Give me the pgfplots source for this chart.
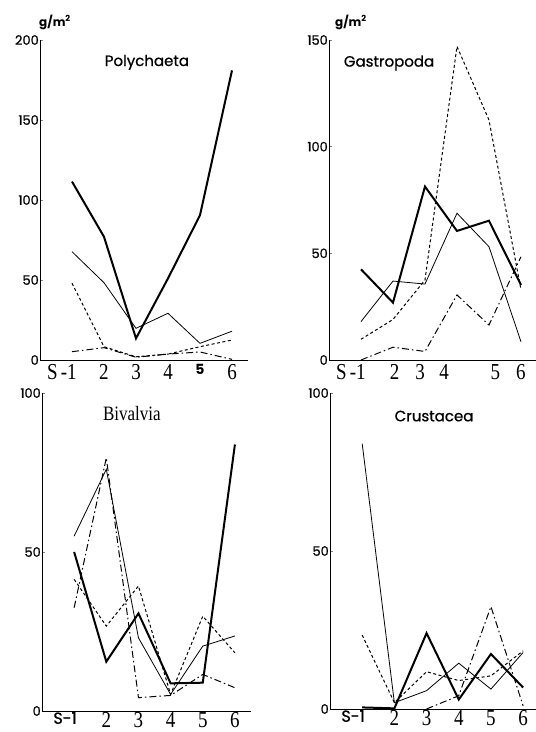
\documentclass[border=0pt]{standalone}
\usepackage{fontspec}
\setmainfont{Liberation Serif}
\setsansfont{Poppins}
\newfontfamily\sfmed{Poppins}[FakeBold=0.8]
\usepackage{graphicx}
\usepackage{pgfplots}
\pgfplotsset{compat=1.18}

% serif labels in the scan are a bit taller than wide
\newcommand{\tall}[1]{\scalebox{1}[1.2]{#1}}

\pgfplotsset{
  panel/.style={
    scale only axis, xmin=0, xmax=6.5, ymin=0,
    axis x line*=bottom, axis y line*=left,
    axis line style={line width=0.9bp},
    clip=false,
    xtick={1,...,6},
    x tick style={draw=none},
    y tick style={line width=0.8bp},
    tick align=inside, major tick length=3bp,
    /pgf/number format/assume math mode=true,
    yticklabel style={font=\sfmed\fontsize{13bp}{13bp}\selectfont, inner sep=1bp},
    xticklabel style={font=\fontsize{19bp}{19bp}\selectfont, inner sep=4bp},
  },
  thk/.style={black, line width=2bp},
  thn/.style={black, line width=0.8bp},
  dsh/.style={black, line width=1bp, dash pattern=on 3bp off 2.5bp},
  dd/.style={black, line width=1bp, dash pattern=on 7bp off 3bp on 1.5bp off 3bp},
}
\tikzset{
  ttl/.style={font=\sfmed\fontsize{15bp}{15bp}\selectfont},
  unit/.style={font=\sffamily\bfseries\fontsize{12bp}{12bp}\selectfont},
}

\begin{document}
\begin{tikzpicture}
\useasboundingbox (0,0) rectangle (536bp,732bp);

% Polychaeta
\begin{axis}[panel, at={(40bp,372bp)}, anchor=south west,
  width=208bp, height=320bp, ymax=200, ytick={0,50,100,150,200},
  xticklabels={\tall{\llap{S\,-}1},\tall{2},\tall{3},\tall{4},{\sffamily\bfseries\fontsize{14bp}{14bp}\selectfont 5},\tall{6}}]
  \addplot[thk] coordinates {(1,111.5)(2,77)(3,13.5)(4,51)(5,90.5)(6,181)};
  \addplot[thn] coordinates {(1,67.7)(2,48.3)(3,19.8)(4,29.2)(5,10.4)(6,18)};
  \addplot[dsh] coordinates {(1,48)(2,8.3)(3,2)(4,3.7)(5,8.3)(6,12.5)};
  \addplot[dd] coordinates {(1,5.2)(2,7.7)(3,1.7)(4,3.7)(5,5)(6,0.4)};
  \node[ttl] at (rel axis cs:0.514,0.93) {Polychaeta};
  \node[unit] at (rel axis cs:0.072,1.056) {g/m\textsuperscript{2}};
\end{axis}

% Gastropoda
\begin{axis}[panel, at={(329bp,372bp)}, anchor=south west,
  width=207bp, height=320bp, xmax=6.47, ymax=150, ytick={0,50,100,150},
  xtick={1,2.05,2.85,3.6,5.2,6},
  xticklabels={\tall{\llap{S\,-}1},\tall{2},\tall{3},\tall{4},\tall{5},\tall{6}}]
  \addplot[thk] coordinates {(1,42.5)(2,26.9)(3,81.3)(4,60.5)(5,65.3)(6,35.2)};
  \addplot[thn] coordinates {(1,18)(2,37)(3,35.6)(4,68.8)(5,53.1)(6,8.6)};
  \addplot[dsh] coordinates {(1,9.7)(2,19)(3,37.5)(4,147)(5,112.5)(6,33)};
  \addplot[dd] coordinates {(1,0)(2,6)(3,4)(4,30.5)(5,16.4)(6,48.4)};
  \node[ttl] at (rel axis cs:0.29,0.928) {Gastropoda};
  \node[unit] at (rel axis cs:0.106,1.056) {g/m\textsuperscript{2}};
\end{axis}

% Bivalvia
\begin{axis}[panel, at={(42bp,21bp)}, anchor=south west,
  width=209bp, height=318bp, ymax=100, ytick={0,50,100},
  xticklabel style={inner sep=1bp},
  xticklabels={{\sfmed\fontsize{16bp}{16bp}\selectfont\llap{S-}1},\tall{2},\tall{3},\tall{4},\tall{5},\tall{6}}]
  \addplot[thk] coordinates {(1,50)(2,15.5)(3,30.7)(4,8.7)(5,8.9)(6,83.8)};
  \addplot[thn] coordinates {(1,55)(2,76)(3,23)(4,5.2)(5,20.4)(6,23.6)};
  \addplot[dsh] coordinates {(1,41.4)(2,26.7)(3,39.3)(4,5.2)(5,29.8)(6,18.3)};
  \addplot[dd] coordinates {(1,32.5)(2,79.6)(3,4.2)(4,4.9)(5,11.5)(6,7.3)};
  \node[font=\fontsize{17bp}{17bp}\selectfont] at (rel axis cs:0.43,0.934) {\tall{Bivalvia}};
\end{axis}

% Crustacea
\begin{axis}[panel, at={(330bp,23bp)}, anchor=south west,
  width=206bp, height=316bp, xmax=6.4, ymax=100, ytick={0,50,100},
  xticklabel style={inner sep=1bp},
  xticklabels={{\sfmed\fontsize{16bp}{16bp}\selectfont\llap{S-}1},\tall{2},\tall{3},\tall{4},\tall{5},\tall{6}}]
  \addplot[thn] coordinates {(1,84)(2,2)(3,5.8)(4,14.5)(5,6.3)(6,17.9)};
  \addplot[thk] coordinates {(1,0.5)(2,0.2)(3,24)(4,3)(5,17.4)(6,6.8)};
  \addplot[dsh] coordinates {(1,23.4)(2,2)(3,11.8)(4,9)(5,10.5)(6,18.4)};
  \addplot[dd] coordinates {(3,0)(4,4.2)(5,32.4)(6,1)};
  \node[ttl] at (rel axis cs:0.505,0.927) {Crustacea};
\end{axis}
\end{tikzpicture}
\end{document}
